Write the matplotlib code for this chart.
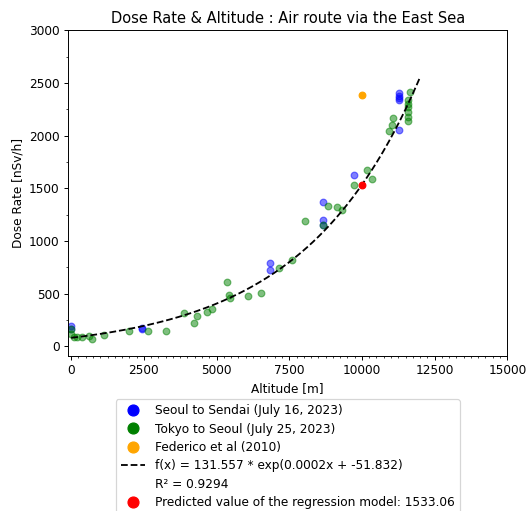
import numpy as np
import matplotlib
matplotlib.use("Agg")
import matplotlib.pyplot as plt
from matplotlib.lines import Line2D
from matplotlib.ticker import MultipleLocator

# Seoul to Sendai (July 16, 2023)
seoul_alt = [0, 0, 2418, 2418, 6841, 6841, 8673, 8673, 8673, 9729,
             11275, 11275, 11275, 11275, 11275]
seoul_dose = [190, 168, 175, 160, 791, 722, 1371, 1203, 1149, 1624,
              2051, 2400, 2380, 2360, 2340]

# Tokyo to Seoul (July 25, 2023)
tokyo_alt = [0, 0, 93, 206, 378, 608, 722, 1124, 1994, 2658, 3266,
             3885, 4217, 4343, 4675, 4858, 5374, 5431, 5477, 6073, 6532,
             7150, 7609, 8044, 8673, 8845, 9133, 9305, 9729, 10187, 10358,
             10943, 11024, 11080, 11654, 11596, 11596, 11596, 11596, 11596, 11596]
tokyo_dose = [159, 118, 85, 85, 85, 95, 73, 111, 143, 143, 143,
              317, 219, 285, 326, 352, 614, 488, 456, 478, 503,
              747, 817, 1187, 1149, 1329, 1320, 1291, 1535, 1678, 1589,
              2041, 2105, 2168, 2418, 2342, 2304, 2267, 2220, 2172, 2134]

# Federico et al (2010)
fed_alt = [10000]
fed_dose = [2388]

# regression model f(x) = a * exp(b x) + c
fit_a = 131.557
fit_b = 0.00024889
fit_c = -51.832
r2 = 0.9294
pred_alt = 10000
pred_dose = 1533.06

DPI = 87.5
fig = plt.figure(figsize=(527 / DPI, 511 / DPI), dpi=DPI)
ax = fig.add_axes([68.3 / 527, 1 - 355.7 / 511, 439 / 527, 325.4 / 511])

ax.scatter(seoul_alt, seoul_dose, color='blue', alpha=0.5, s=30)
ax.scatter(tokyo_alt, tokyo_dose, color='green', alpha=0.5, s=30)
ax.scatter(fed_alt, fed_dose, color='orange', s=30)

xfit = np.linspace(0, 12000, 300)
ax.plot(xfit, fit_a * np.exp(fit_b * xfit) + fit_c, 'k--')
ax.scatter([pred_alt], [pred_dose], color='red', s=30, zorder=3)

ax.set_xlim(-100, 15000)
ax.set_ylim(-90, 3000)
ax.xaxis.set_major_locator(MultipleLocator(2500))
ax.xaxis.set_minor_locator(MultipleLocator(250))
ax.yaxis.set_minor_locator(MultipleLocator(250))

ax.set_title("Dose Rate & Altitude : Air route via the East Sea")
ax.set_xlabel("Altitude [m]")
ax.set_ylabel("Dose Rate [nSv/h]")

handles = [
    Line2D([], [], marker='o', ls='none', color='blue', markersize=9),
    Line2D([], [], marker='o', ls='none', color='green', markersize=9),
    Line2D([], [], marker='o', ls='none', color='orange', markersize=9),
    Line2D([], [], ls='--', color='black'),
    Line2D([], [], ls='none'),
    Line2D([], [], marker='o', ls='none', color='red', markersize=9),
]
labels = [
    "Seoul to Sendai (July 16, 2023)",
    "Tokyo to Seoul (July 25, 2023)",
    "Federico et al (2010)",
    "f(x) = %.3f * exp(%.4fx + %.3f)" % (fit_a, fit_b, fit_c),
    "R² = %.4f" % r2,
    "Predicted value of the regression model: %.2f" % pred_dose,
]
ax.legend(handles, labels, loc='upper center', bbox_to_anchor=(0.5, -0.115),
          labelspacing=0.45)

fig.savefig("out.png", dpi=DPI)
